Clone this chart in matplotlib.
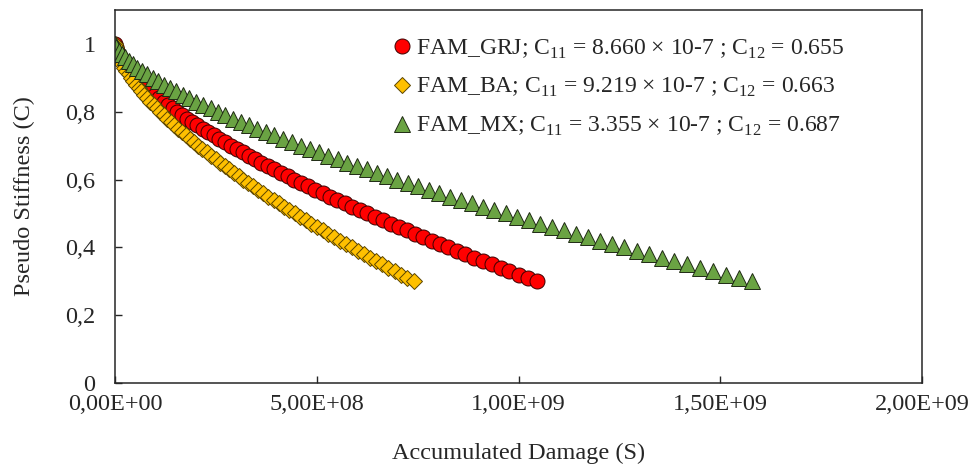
import matplotlib
matplotlib.use('Agg')
import matplotlib.pyplot as plt

plt.rcParams['font.family'] = ['Liberation Serif', 'DejaVu Serif']
plt.rcParams['mathtext.fontset'] = 'custom'
plt.rcParams['mathtext.rm'] = 'Liberation Serif'

# pseudo stiffness levels (same for all three mixtures)
C = [round(1.0 - 0.01 * i, 2) for i in range(71)]

# accumulated damage, in millions
S_GRJ = [0.0, 1.6, 4.6, 8.5, 13.2, 18.6, 24.6, 31.1, 38.1, 45.6, 53.6, 62.0, 70.8, 80.0, 89.6,
         99.5, 109.8, 120.5, 131.4, 142.7, 154.4, 166.3, 178.6, 191.1, 203.9, 217.0, 230.4,
         244.1, 258.0, 272.2, 286.7, 301.4, 316.4, 331.6, 347.1, 362.8, 378.7, 394.9, 411.3,
         427.9, 444.8, 461.9, 479.2, 496.7, 514.5, 532.4, 550.6, 569.0, 587.5, 606.3, 625.3,
         644.5, 663.9, 683.5, 703.3, 723.3, 743.5, 763.8, 784.4, 805.1, 826.0, 847.1, 868.4,
         889.9, 911.6, 933.4, 955.4, 977.6, 1000.0, 1022.5, 1045.2]
S_BA = [0.0, 1.2, 3.5, 6.4, 9.9, 13.8, 18.2, 23.0, 28.1, 33.6, 39.3, 45.4, 51.8, 58.4, 65.3,
        72.5, 79.9, 87.6, 95.4, 103.6, 111.9, 120.4, 129.2, 138.1, 147.3, 156.7, 166.2, 175.9,
        185.9, 196.0, 206.2, 216.7, 227.3, 238.1, 249.1, 260.2, 271.5, 283.0, 294.6, 306.4,
        318.3, 330.4, 342.6, 355.0, 367.5, 380.2, 393.0, 405.9, 419.0, 432.3, 445.7, 459.2,
        472.8, 486.6, 500.5, 514.6, 528.7, 543.0, 557.5, 572.0, 586.7, 601.5, 616.5, 631.5,
        646.7, 662.0, 677.4, 693.0, 708.6, 724.4, 740.3]
S_MX = [0.0, 3.3, 8.9, 16.1, 24.5, 33.9, 44.2, 55.3, 67.2, 79.8, 93.0, 106.8, 121.2, 136.2,
        151.8, 167.8, 184.3, 201.3, 218.8, 236.7, 255.0, 273.8, 293.0, 312.6, 332.6, 352.9,
        373.6, 394.7, 416.2, 438.0, 460.2, 482.7, 505.5, 528.7, 552.1, 575.9, 600.0, 624.5,
        649.2, 674.2, 699.5, 725.1, 751.0, 777.1, 803.6, 830.3, 857.3, 884.6, 912.1, 939.9,
        967.9, 996.2, 1024.8, 1053.6, 1082.7, 1112.0, 1141.5, 1171.3, 1201.4, 1231.6, 1262.1,
        1292.9, 1323.8, 1355.0, 1386.4, 1418.1, 1450.0, 1482.0, 1514.4, 1546.9, 1579.6]

labels = [
    r'FAM_GRJ; C$_{\mathrm{11}}$ = 8.660 × 10-7 ; C$_{\mathrm{12}}$ = 0.655',
    r'FAM_BA; C$_{\mathrm{11}}$ = 9.219 × 10-7 ; C$_{\mathrm{12}}$ = 0.663',
    r'FAM_MX; C$_{\mathrm{11}}$ = 3.355 × 10-7 ; C$_{\mathrm{12}}$ = 0.687',
]

xticks = [0, 5e8, 1e9, 1.5e9, 2e9]
xticklabels = ['0,00E+00', '5,00E+08', '1,00E+09', '1,50E+09', '2,00E+09']
yticks = [0, 0.2, 0.4, 0.6, 0.8, 1.0]
yticklabels = ['0', '0,2', '0,4', '0,6', '0,8', '1']

fig = plt.figure(figsize=(9.69, 4.68), dpi=100)
ax = fig.add_axes([0.1187, 0.1816, 0.8328, 0.7970])

ax.plot([s * 1e6 for s in S_GRJ], C, 'o', ms=10.8, mfc='#ff0000', mec='#3a0000', mew=0.7,
        label=labels[0])
ax.plot([s * 1e6 for s in S_BA], C, 'D', ms=8.6, mfc='#ffc000', mec='#5a4500', mew=0.7,
        label=labels[1])
ax.plot([s * 1e6 for s in S_MX], C, '^', ms=11.5, mfc='#6aa343', mec='#1f2a14', mew=0.7,
        label=labels[2])

ax.set_xlim(0, 2e9)
ax.set_ylim(0, 1.1)
ax.set_xticks(xticks)
ax.set_xticklabels(xticklabels)
ax.set_yticks(yticks)
ax.set_yticklabels(yticklabels)
ax.tick_params(axis='both', direction='in', length=5, width=1, labelsize=17.5, colors='#262626')
ax.tick_params(axis='x', pad=8)
ax.tick_params(axis='y', pad=14)
for sp in ax.spines.values():
    sp.set_linewidth(1.1)
    sp.set_color('#262626')

ax.set_xlabel('Accumulated Damage (S)', fontsize=17.5, labelpad=20, color='#262626')
ax.set_ylabel('Pseudo Stiffness (C)', fontsize=17.5, labelpad=22, color='#262626')

leg = ax.legend(loc='upper left', bbox_to_anchor=(0.329, 0.952), frameon=False, fontsize=17,
                handletextpad=0.1, handlelength=1.0, labelspacing=0.66, borderaxespad=0)
for t in leg.get_texts():
    t.set_color('#262626')

fig.savefig('out.png', dpi=100)
